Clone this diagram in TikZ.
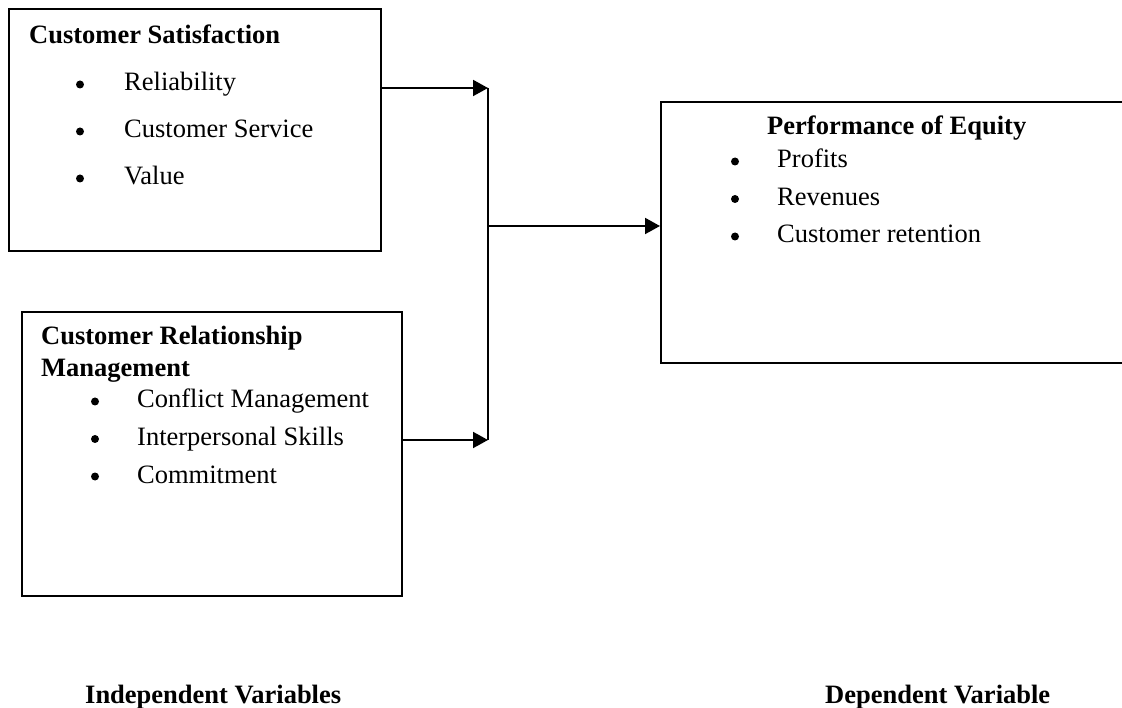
\documentclass[tikz,border=0pt]{standalone}
\usepackage{fontspec}
\setmainfont{Liberation Serif}
\usetikzlibrary{arrows.meta,positioning}

\begin{document}
\begin{tikzpicture}[x=1pt,y=-1pt,
    box/.style 2 args={draw,line width=2pt,anchor=north west,inner sep=0pt,minimum width=#1,minimum height=#2},
    head/.style={anchor=base west,inner sep=0pt,font=\fontsize{26.5}{32}\selectfont\bfseries},
    item/.style={anchor=base west,inner sep=0pt,font=\fontsize{26.5}{32}\selectfont},
    dot/.style={circle,fill,inner sep=0pt,minimum size=8pt,yshift=6.5pt},
    link/.style={line width=2pt,-{Triangle[length=15pt,width=16pt]}}]
    \clip (0,0) rectangle (1122,708);

    % Boxes
    \node[box={372pt}{242pt}] (sat) at (8,8) {};
    \node[box={380pt}{284pt}] (crm) at (21,311) {};
    \node[box={480pt}{261pt}] (perf) at (660,101) {};

    % Customer satisfaction
    \node[head] (sathead) at (29,44) {Customer Satisfaction};
    \foreach \t [count=\i] in {Reliability, Customer Service, Value} {
        \node[dot] (satdot\i) at (80,44+47*\i) {};
        \node[item] (satitem\i) at (124,44+47*\i) {\t};
    }

    % Customer relationship management
    \node[head] (crmhead) at (41,345) {Customer Relationship};
    \node[head] (crmhead2) at (41,377) {Management};
    \foreach \t [count=\i] in {Conflict Management, Interpersonal Skills, Commitment} {
        \node[dot] (crmdot\i) at (95,370.5+37.5*\i) {};
        \node[item] (crmitem\i) at (137,370.5+37.5*\i) {\t};
    }

    % Performance of equity
    \node[head] (perfhead) at (767,135) {Performance of Equity};
    \foreach \t [count=\i] in {Profits, Revenues, Customer retention} {
        \node[dot] (perfdot\i) at (735,130.5+37.5*\i) {};
        \node[item] (perfitem\i) at (777,130.5+37.5*\i) {\t};
    }

    % Lines
    \coordinate (j1) at (488,88);
    \coordinate (j2) at (488,440);
    \coordinate (j3) at (488,226);
    \draw[link] (sat.east |- j1) -- (j1);
    \draw[link] (crm.east |- j2) -- (j2);
    \draw[line width=2pt] (j1) -- (j2);
    \draw[link] (j3) -- (perf.west |- j3);

    % Captions
    \node[head] (indep) at (85,703) {Independent Variables};
    \node[head] (dep) at (825,703) {Dependent Variable};
\end{tikzpicture}
\end{document}
